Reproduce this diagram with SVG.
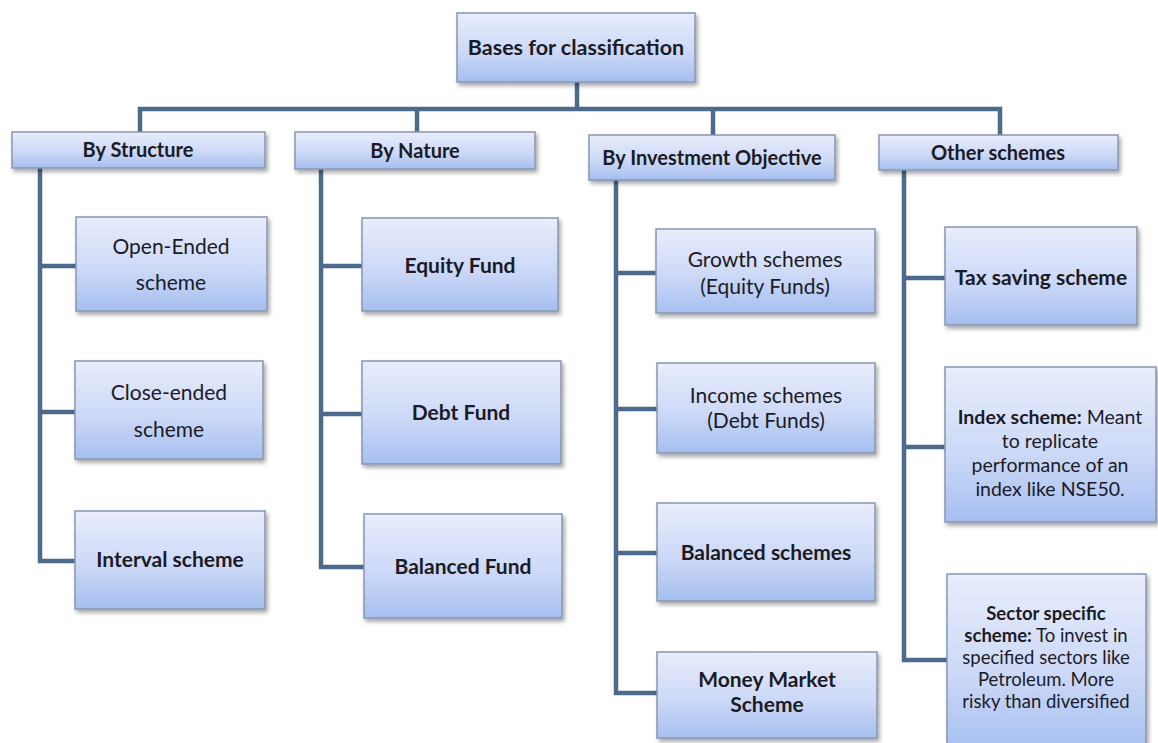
<svg xmlns="http://www.w3.org/2000/svg" width="1158" height="743" viewBox="0 0 1158 743">
<defs>
<linearGradient id="g" x1="0" y1="0" x2="0" y2="1">
<stop offset="0" stop-color="#e9edfc"/>
<stop offset="0.55" stop-color="#cdd9f7"/>
<stop offset="1" stop-color="#a6bff0"/>
</linearGradient>
<filter id="sh" x="-10%" y="-10%" width="125%" height="130%">
<feDropShadow dx="2" dy="3" stdDeviation="2" flood-color="#000" flood-opacity="0.35"/>
</filter>
<style>
.b{fill:url(#g);stroke:#8996b0;stroke-width:1.5;filter:url(#sh)}
.c{fill:none;stroke:#4d6a8c;stroke-width:4.5;stroke-linejoin:miter;stroke-linecap:butt}
text{font-family:Lato,"Liberation Sans",sans-serif;fill:#1b1b26;text-anchor:middle}
.h{font-weight:bold;font-size:20px}
.t{font-size:21px;font-weight:bold}
.n{font-size:21px}
.s{font-size:19.5px}
.q{font-size:18.5px}
</style>
</defs>
<rect width="1158" height="743" fill="#ffffff"/>
<g id="connectors">
<path class="c" d="M577 82 V109"/>
<path class="c" d="M140 132 V109 H1000 V135"/>
<path class="c" d="M417 109 V132"/>
<path class="c" d="M713 109 V135"/>
<path class="c" d="M40 168 V561 H75 M40 266 H76 M40 412 H75"/>
<path class="c" d="M321 169 V567 H364 M321 266 H362 M321 414 H362"/>
<path class="c" d="M616 180 V693 H657 M616 273 H656 M616 409 H657 M616 553 H657"/>
<path class="c" d="M904 170 V660 H947 M904 278 H945 M904 447 H945"/>
</g>
<g id="root"><rect class="b" x="457" y="13" width="238" height="69"/><text class="h" x="576" y="55" style="font-size:21.5px">Bases for classification</text></g>
<g id="by-structure"><rect class="b" x="12" y="132" width="253" height="36"/><text class="h" x="138" y="157">By Structure</text></g>
<g id="by-nature"><rect class="b" x="295" y="132" width="240" height="37"/><text class="h" x="415" y="158">By Nature</text></g>
<g id="by-investment"><rect class="b" x="589" y="135" width="246" height="45"/><text class="h" x="712" y="165">By Investment Objective</text></g>
<g id="other"><rect class="b" x="879" y="135" width="239" height="35"/><text class="h" x="998" y="160">Other schemes</text></g>

<g id="open-ended"><rect class="b" x="76" y="217" width="191" height="94"/><text class="n" x="171" y="254">Open-Ended</text><text class="n" x="171" y="290">scheme</text></g>
<g id="close-ended"><rect class="b" x="75" y="361" width="188" height="98"/><text class="n" x="169" y="400">Close-ended</text><text class="n" x="169" y="437">scheme</text></g>
<g id="interval"><rect class="b" x="75" y="511" width="190" height="98"/><text class="t" x="170" y="567">Interval scheme</text></g>

<g id="equity-fund"><rect class="b" x="362" y="218" width="196" height="93"/><text class="t" x="460" y="273">Equity Fund</text></g>
<g id="debt-fund"><rect class="b" x="362" y="361" width="199" height="103"/><text class="t" x="461" y="420">Debt Fund</text></g>
<g id="balanced-fund"><rect class="b" x="364" y="514" width="198" height="104"/><text class="t" x="463" y="574">Balanced Fund</text></g>

<g id="growth"><rect class="b" x="656" y="229" width="219" height="84"/><text class="n" x="765" y="267">Growth schemes</text><text class="n" x="765" y="294">(Equity Funds)</text></g>
<g id="income"><rect class="b" x="657" y="363" width="218" height="90"/><text class="n" x="766" y="403">Income schemes</text><text class="n" x="766" y="428">(Debt Funds)</text></g>
<g id="balanced-schemes"><rect class="b" x="657" y="503" width="218" height="98"/><text class="t" x="766" y="560">Balanced schemes</text></g>
<g id="money-market"><rect class="b" x="657" y="652" width="220" height="86"/><text class="t" x="767" y="687">Money Market</text><text class="t" x="767" y="712">Scheme</text></g>

<g id="tax-saving"><rect class="b" x="945" y="227" width="192" height="98"/><text class="t" x="1041" y="285">Tax saving scheme</text></g>
<g id="index"><rect class="b" x="945" y="367" width="211" height="155"/>
<text class="s" x="1050" y="424"><tspan font-weight="bold">Index scheme:</tspan> Meant</text>
<text class="s" x="1050" y="448">to replicate</text>
<text class="s" x="1050" y="472">performance of an</text>
<text class="s" x="1050" y="496">index like NSE50.</text></g>
<g id="sector"><rect class="b" x="947" y="574" width="199" height="178"/>
<text class="q" x="1046" y="620" font-weight="bold">Sector specific</text>
<text class="q" x="1046" y="642"><tspan font-weight="bold">scheme:</tspan> To invest in</text>
<text class="q" x="1046" y="664">specified sectors like</text>
<text class="q" x="1046" y="686">Petroleum. More</text>
<text class="q" x="1046" y="708">risky than diversified</text></g>
</svg>
